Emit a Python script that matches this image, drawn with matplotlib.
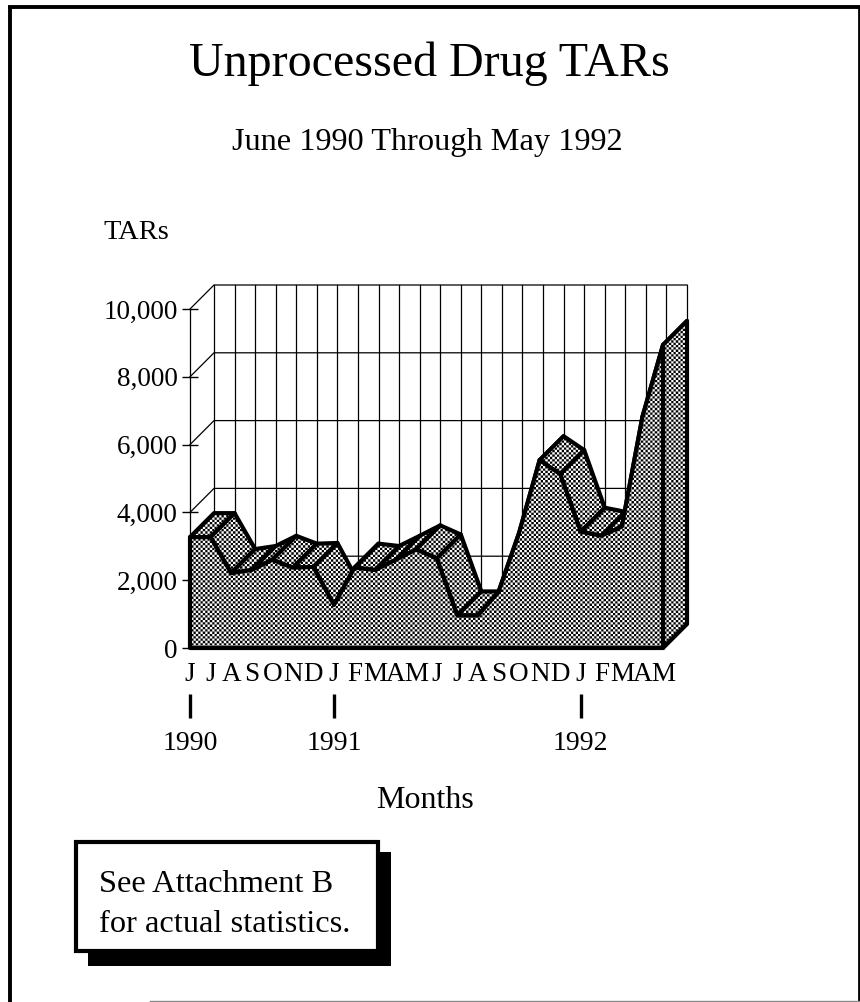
import matplotlib
matplotlib.use('Agg')
import matplotlib.pyplot as plt
import numpy as np
from matplotlib.patches import Polygon, Rectangle

# Unprocessed TARs per month, June 1990 - May 1992
month_letters = ['J', 'J', 'A', 'S', 'O', 'N', 'D', 'J', 'F', 'M', 'A', 'M',
                 'J', 'J', 'A', 'S', 'O', 'N', 'D', 'J', 'F', 'M', 'A', 'M']
tars = [3270, 3270, 2210, 2300, 2600, 2370, 2390, 1270, 2370, 2300, 2600, 2910,
        2640, 960, 960, 1650, 3390, 5540, 5130, 3430, 3310, 3580, 6820, 8940]
y_ticks = [0, 2000, 4000, 6000, 8000, 10000]
y_tick_labels = ['0', '2,000', '4,000', '6,000', '8,000', '10,000']
year_months = [0, 7, 19]
year_labels = ['1990', '1991', '1992']

W, H = 860, 1002
# pixel box of the front plane
LEFT, RIGHT, TOP, BOTTOM = 190, 663, 309, 648
DEPTH_PX = 24
CHECK_PX = 2.33

plt.rcParams['font.family'] = ['Liberation Serif', 'DejaVu Serif']


def fig_x(px):
    return px / W


def fig_y(px):
    return 1 - px / H


def checker_texture():
    # small black/white checks, averaged down from a finer grid
    s = 4
    yy, xx = np.mgrid[0:H * s, 0:W * s]
    checks = (np.floor(xx / (s * CHECK_PX)) + np.floor(yy / (s * CHECK_PX))) % 2
    return checks.reshape(H, s, W, s).mean(axis=(1, 3))


fig = plt.figure(figsize=(W / 100, H / 100), dpi=100, facecolor='white')

# page frame and note box live in pixel coordinates on a full-figure axes
page = fig.add_axes([0, 0, 1, 1])
page.set_xlim(0, W)
page.set_ylim(H, 0)
page.axis('off')
page.plot([10, 10], [1002, 7], color='black', lw=2.8, solid_capstyle='butt')
page.plot([8, 860], [7, 7], color='black', lw=2.8, solid_capstyle='butt')
page.plot([859, 859], [6, 1002], color='black', lw=2.0, solid_capstyle='butt')
page.plot([150, 860], [1001, 1001], color='#888888', lw=1.0)

page.add_patch(Rectangle((88, 852), 303, 114, facecolor='black', edgecolor='none'))
page.add_patch(Rectangle((76, 842), 302, 109, facecolor='white', edgecolor='black', lw=3.0))
page.text(99, 884, 'See Attachment B', fontsize=23.3, va='center', ha='left')
page.text(99, 924, 'for actual statistics.', fontsize=23.3, va='center', ha='left')

page.text(429, 64, 'Unprocessed Drug TARs', fontsize=34.6, ha='center', va='center')
page.text(427, 142, 'June 1990 Through May 1992', fontsize=23.3, ha='center', va='center')
page.text(136, 232, 'TARs', fontsize=20.5, ha='center', va='center')
page.text(425, 800, 'Months', fontsize=23, ha='center', va='center')

ax = fig.add_axes([fig_x(LEFT), fig_y(BOTTOM), fig_x(RIGHT - LEFT), (BOTTOM - TOP) / H])
ax.patch.set_visible(False)
for spine in ax.spines.values():
    spine.set_visible(False)
ax.set_autoscale_on(False)
ax.set_xlim(0, len(tars) - 1)
ax.set_ylim(0, 10000)

# depth of the 3D box in data units
dx = DEPTH_PX / ((RIGHT - LEFT) / (len(tars) - 1))
dy = DEPTH_PX / ((BOTTOM - TOP) / 10000)
n = len(tars)

# back wall and left wall
for v in y_ticks[1:]:
    ax.plot([0, dx, n - 1 + dx], [v, v + dy, v + dy], color='black', lw=0.9, clip_on=False, zorder=1)
for i in range(n):
    ax.plot([i + dx, i + dx], [dy, 10000 + dy], color='black', lw=0.9, clip_on=False, zorder=1)
ax.plot([0, 0], [0, 10000], color='black', lw=0.9, clip_on=False, zorder=1)

texture = checker_texture()


def shaded(points, zorder):
    # checked fill clipped to the polygon, heavy outline on top
    outline = Polygon(points, closed=True, facecolor='none', edgecolor='black', lw=3.0,
                      joinstyle='round', clip_on=False, zorder=zorder + 0.001)
    ax.add_patch(outline)
    im = ax.imshow(texture, cmap='gray', vmin=0, vmax=1, extent=(0, W, H, 0), aspect='auto',
                   interpolation='nearest', transform=page.transData, zorder=zorder)
    im.set_clip_box(fig.bbox)
    im.set_clip_path(outline)


# ribbon along the top of the area, far segments first
for i in range(n - 1):
    shaded([(i, tars[i]), (i + 1, tars[i + 1]),
            (i + 1 + dx, tars[i + 1] + dy), (i + dx, tars[i] + dy)], 2 + i * 0.01)

# right-hand end wall
shaded([(n - 1, 0), (n - 1 + dx, dy), (n - 1 + dx, tars[-1] + dy), (n - 1, tars[-1])], 3)

# front face
shaded([(0, 0)] + list(zip(range(n), tars)) + [(n - 1, 0)], 4)

ax.set_xlim(0, n - 1)
ax.set_ylim(0, 10000)
ax.set_yticks(y_ticks)
ax.set_yticklabels(y_tick_labels, fontsize=19.5)
ax.tick_params(axis='y', direction='inout', length=11.5, width=1.0, pad=3)
ax.set_xticks(range(n))
ax.set_xticklabels(month_letters, fontsize=19.5)
ax.tick_params(axis='x', length=0, pad=10)

# year markers under the month letters
y_span = (BOTTOM - TOP) / 10000
for m, label in zip(year_months, year_labels):
    ax.plot([m, m], [-(694 - BOTTOM) / y_span, -(718 - BOTTOM) / y_span], color='black', lw=2.4,
            clip_on=False, solid_capstyle='butt')
    ax.text(m, -(743 - BOTTOM) / y_span, label, fontsize=20, ha='center', va='center')

fig.savefig('out.png', dpi=100)
